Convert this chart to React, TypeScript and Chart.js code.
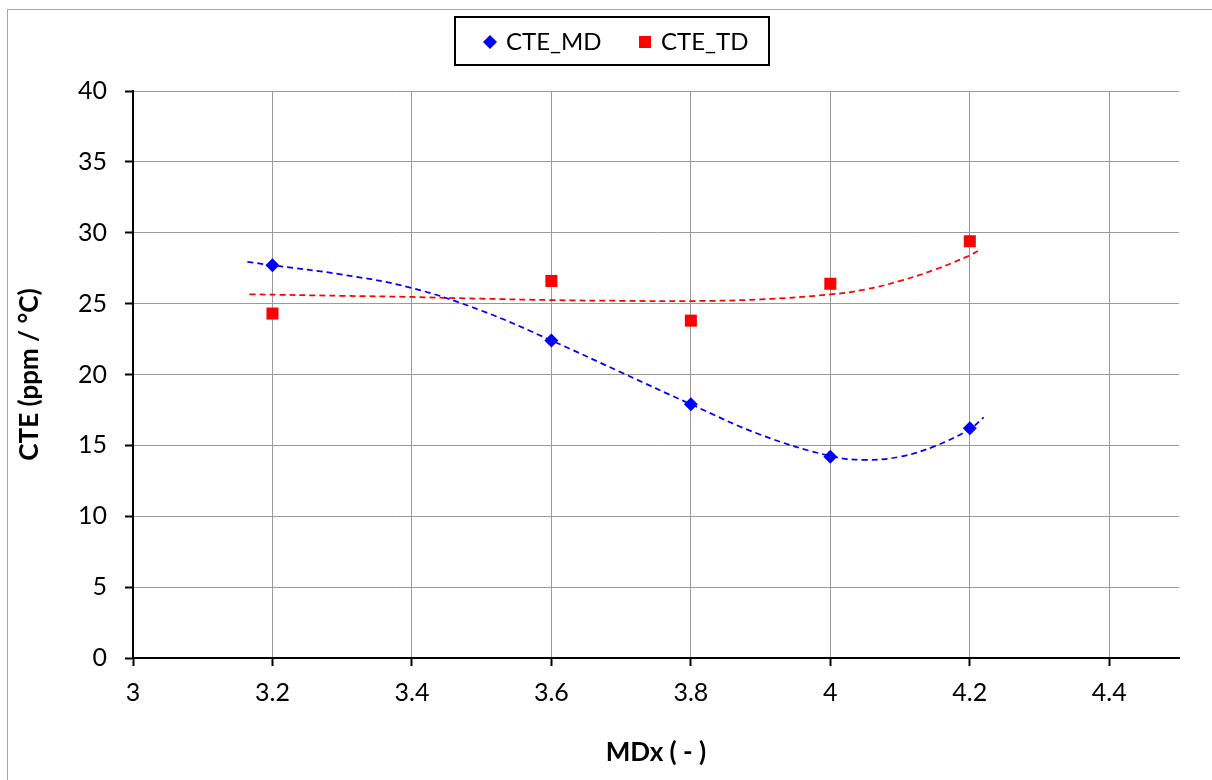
import React, { useEffect, useRef } from "react";
import { Chart, registerables } from "chart.js";

Chart.register(...registerables);

const X_VALUES = [3.2, 3.6, 3.8, 4.0, 4.2];
const CTE_MD = [27.7, 22.4, 17.9, 14.2, 16.2];
const CTE_TD = [24.3, 26.6, 23.8, 26.4, 29.4];
const SERIES_NAMES = ["CTE_MD", "CTE_TD"];

// Trendline curves
const TREND_MD_X = [3.164, 3.2, 3.3, 3.4, 3.5, 3.6, 3.7, 3.8, 3.9, 4.0, 4.05, 4.1, 4.15, 4.2, 4.22];
const TREND_MD_Y = [27.95, 27.7, 27.05, 26.1, 24.5, 22.4, 20.15, 17.9, 15.75, 14.25, 13.98, 14.2, 14.95, 16.15, 16.98];
const TREND_TD_X = [3.167, 3.3, 3.4, 3.5, 3.6, 3.7, 3.8, 3.9, 4.0, 4.05, 4.1, 4.15, 4.2, 4.213];
const TREND_TD_Y = [25.66, 25.55, 25.47, 25.35, 25.25, 25.2, 25.18, 25.3, 25.65, 26.0, 26.6, 27.4, 28.4, 28.75];

const X_AXIS = { min: 3, max: 4.5, step: 0.2, title: "MDx ( - )" };
const Y_AXIS = { min: 0, max: 40, step: 5, title: "CTE (ppm / °C)" };

const FONT = "Lato, 'Open Sans', sans-serif";

const frameAndLegend = {
  id: "frameAndLegend",
  afterDraw(chart: any) {
    const ctx = chart.ctx;
    ctx.save();
    ctx.strokeStyle = "#a6a6a6";
    ctx.lineWidth = 1;
    ctx.strokeRect(7.5, 9.5, 1230, 800);
    ctx.fillStyle = "#ffffff";
    ctx.fillRect(455, 17, 314, 48);
    ctx.strokeStyle = "#000000";
    ctx.lineWidth = 2;
    ctx.strokeRect(455, 17, 314, 48);
    const cy = 42;
    ctx.fillStyle = "#0000ff";
    ctx.beginPath();
    ctx.moveTo(490, cy - 7);
    ctx.lineTo(497, cy);
    ctx.lineTo(490, cy + 7);
    ctx.lineTo(483, cy);
    ctx.closePath();
    ctx.fill();
    ctx.fillStyle = "#ff0000";
    ctx.fillRect(639, cy - 6, 12, 12);
    ctx.fillStyle = "#000000";
    ctx.font = `24px ${FONT}`;
    ctx.textBaseline = "middle";
    ctx.textAlign = "left";
    ctx.fillText(SERIES_NAMES[0], 506, cy);
    ctx.fillText(SERIES_NAMES[1], 661, cy);
    ctx.restore();
  },
};

export default function App() {
  const ref = useRef<HTMLCanvasElement>(null);
  useEffect(() => {
    if (!ref.current) return;
    const chart = new Chart(ref.current, {
      type: "scatter",
      data: {
        datasets: [
          {
            label: SERIES_NAMES[0],
            data: X_VALUES.map((x, i) => ({ x, y: CTE_MD[i] })),
            backgroundColor: "#0000ff",
            borderColor: "#0000ff",
            pointStyle: "rectRot",
            pointRadius: 7,
            borderWidth: 0,
            order: 0,
          },
          {
            label: SERIES_NAMES[1],
            data: X_VALUES.map((x, i) => ({ x, y: CTE_TD[i] })),
            backgroundColor: "#ff0000",
            borderColor: "#ff0000",
            pointStyle: "rect",
            pointRadius: 8.5,
            borderWidth: 0,
            order: 0,
          },
          {
            type: "line",
            label: "trend MD",
            data: TREND_MD_X.map((x, i) => ({ x, y: TREND_MD_Y[i] })),
            borderColor: "#0000ff",
            borderWidth: 1.75,
            borderDash: [6, 4],
            pointRadius: 0,
            fill: false,
            tension: 0.4,
            order: 1,
          } as any,
          {
            type: "line",
            label: "trend TD",
            data: TREND_TD_X.map((x, i) => ({ x, y: TREND_TD_Y[i] })),
            borderColor: "#ff0000",
            borderWidth: 1.75,
            borderDash: [6, 4],
            pointRadius: 0,
            fill: false,
            tension: 0.4,
            order: 1,
          } as any,
        ],
      },
      options: {
        animation: false,
        responsive: false,
        maintainAspectRatio: false,
        layout: { padding: { top: 91, right: 33, left: 0, bottom: 0 } },
        plugins: { legend: { display: false }, tooltip: { enabled: false } },
        scales: {
          x: {
            type: "linear",
            min: X_AXIS.min,
            max: X_AXIS.max,
            afterFit: (s: any) => {
              s.height = 122;
            },
            ticks: {
              stepSize: X_AXIS.step,
              includeBounds: false,
              color: "#000",
              font: { family: FONT, size: 25 },
              padding: 12,
              maxRotation: 0,
              callback: (v: any) => String(Math.round(Number(v) * 10) / 10),
            },
            grid: {
              color: "#9a9a9a",
              lineWidth: 1,
              tickColor: "#000",
              tickLength: 8,
              tickWidth: 2,
            },
            border: { color: "#000", width: 2 },
            title: {
              display: true,
              text: X_AXIS.title,
              color: "#000",
              font: { family: FONT, size: 26, weight: "bold" },
              padding: { top: 0, bottom: 12 },
            },
          },
          y: {
            type: "linear",
            min: Y_AXIS.min,
            max: Y_AXIS.max,
            afterFit: (s: any) => {
              s.width = 133;
            },
            ticks: {
              stepSize: Y_AXIS.step,
              color: "#000",
              font: { family: FONT, size: 25 },
              padding: 18,
            },
            grid: {
              color: "#9a9a9a",
              lineWidth: 1,
              tickColor: "#000",
              tickLength: 8,
              tickWidth: 2,
            },
            border: { color: "#000", width: 2 },
            title: {
              display: true,
              text: Y_AXIS.title,
              color: "#000",
              font: { family: FONT, size: 26, weight: "bold" },
              padding: { top: 14, bottom: 0 },
            },
          },
        },
      },
      plugins: [frameAndLegend],
    });
    return () => chart.destroy();
  }, []);
  return (
    <div style={{ position: "fixed", left: 0, top: 0, width: 1212, height: 780, background: "#fff" }}>
      <canvas ref={ref} width={1212} height={780} style={{ width: 1212, height: 780, display: "block" }} />
    </div>
  );
}
